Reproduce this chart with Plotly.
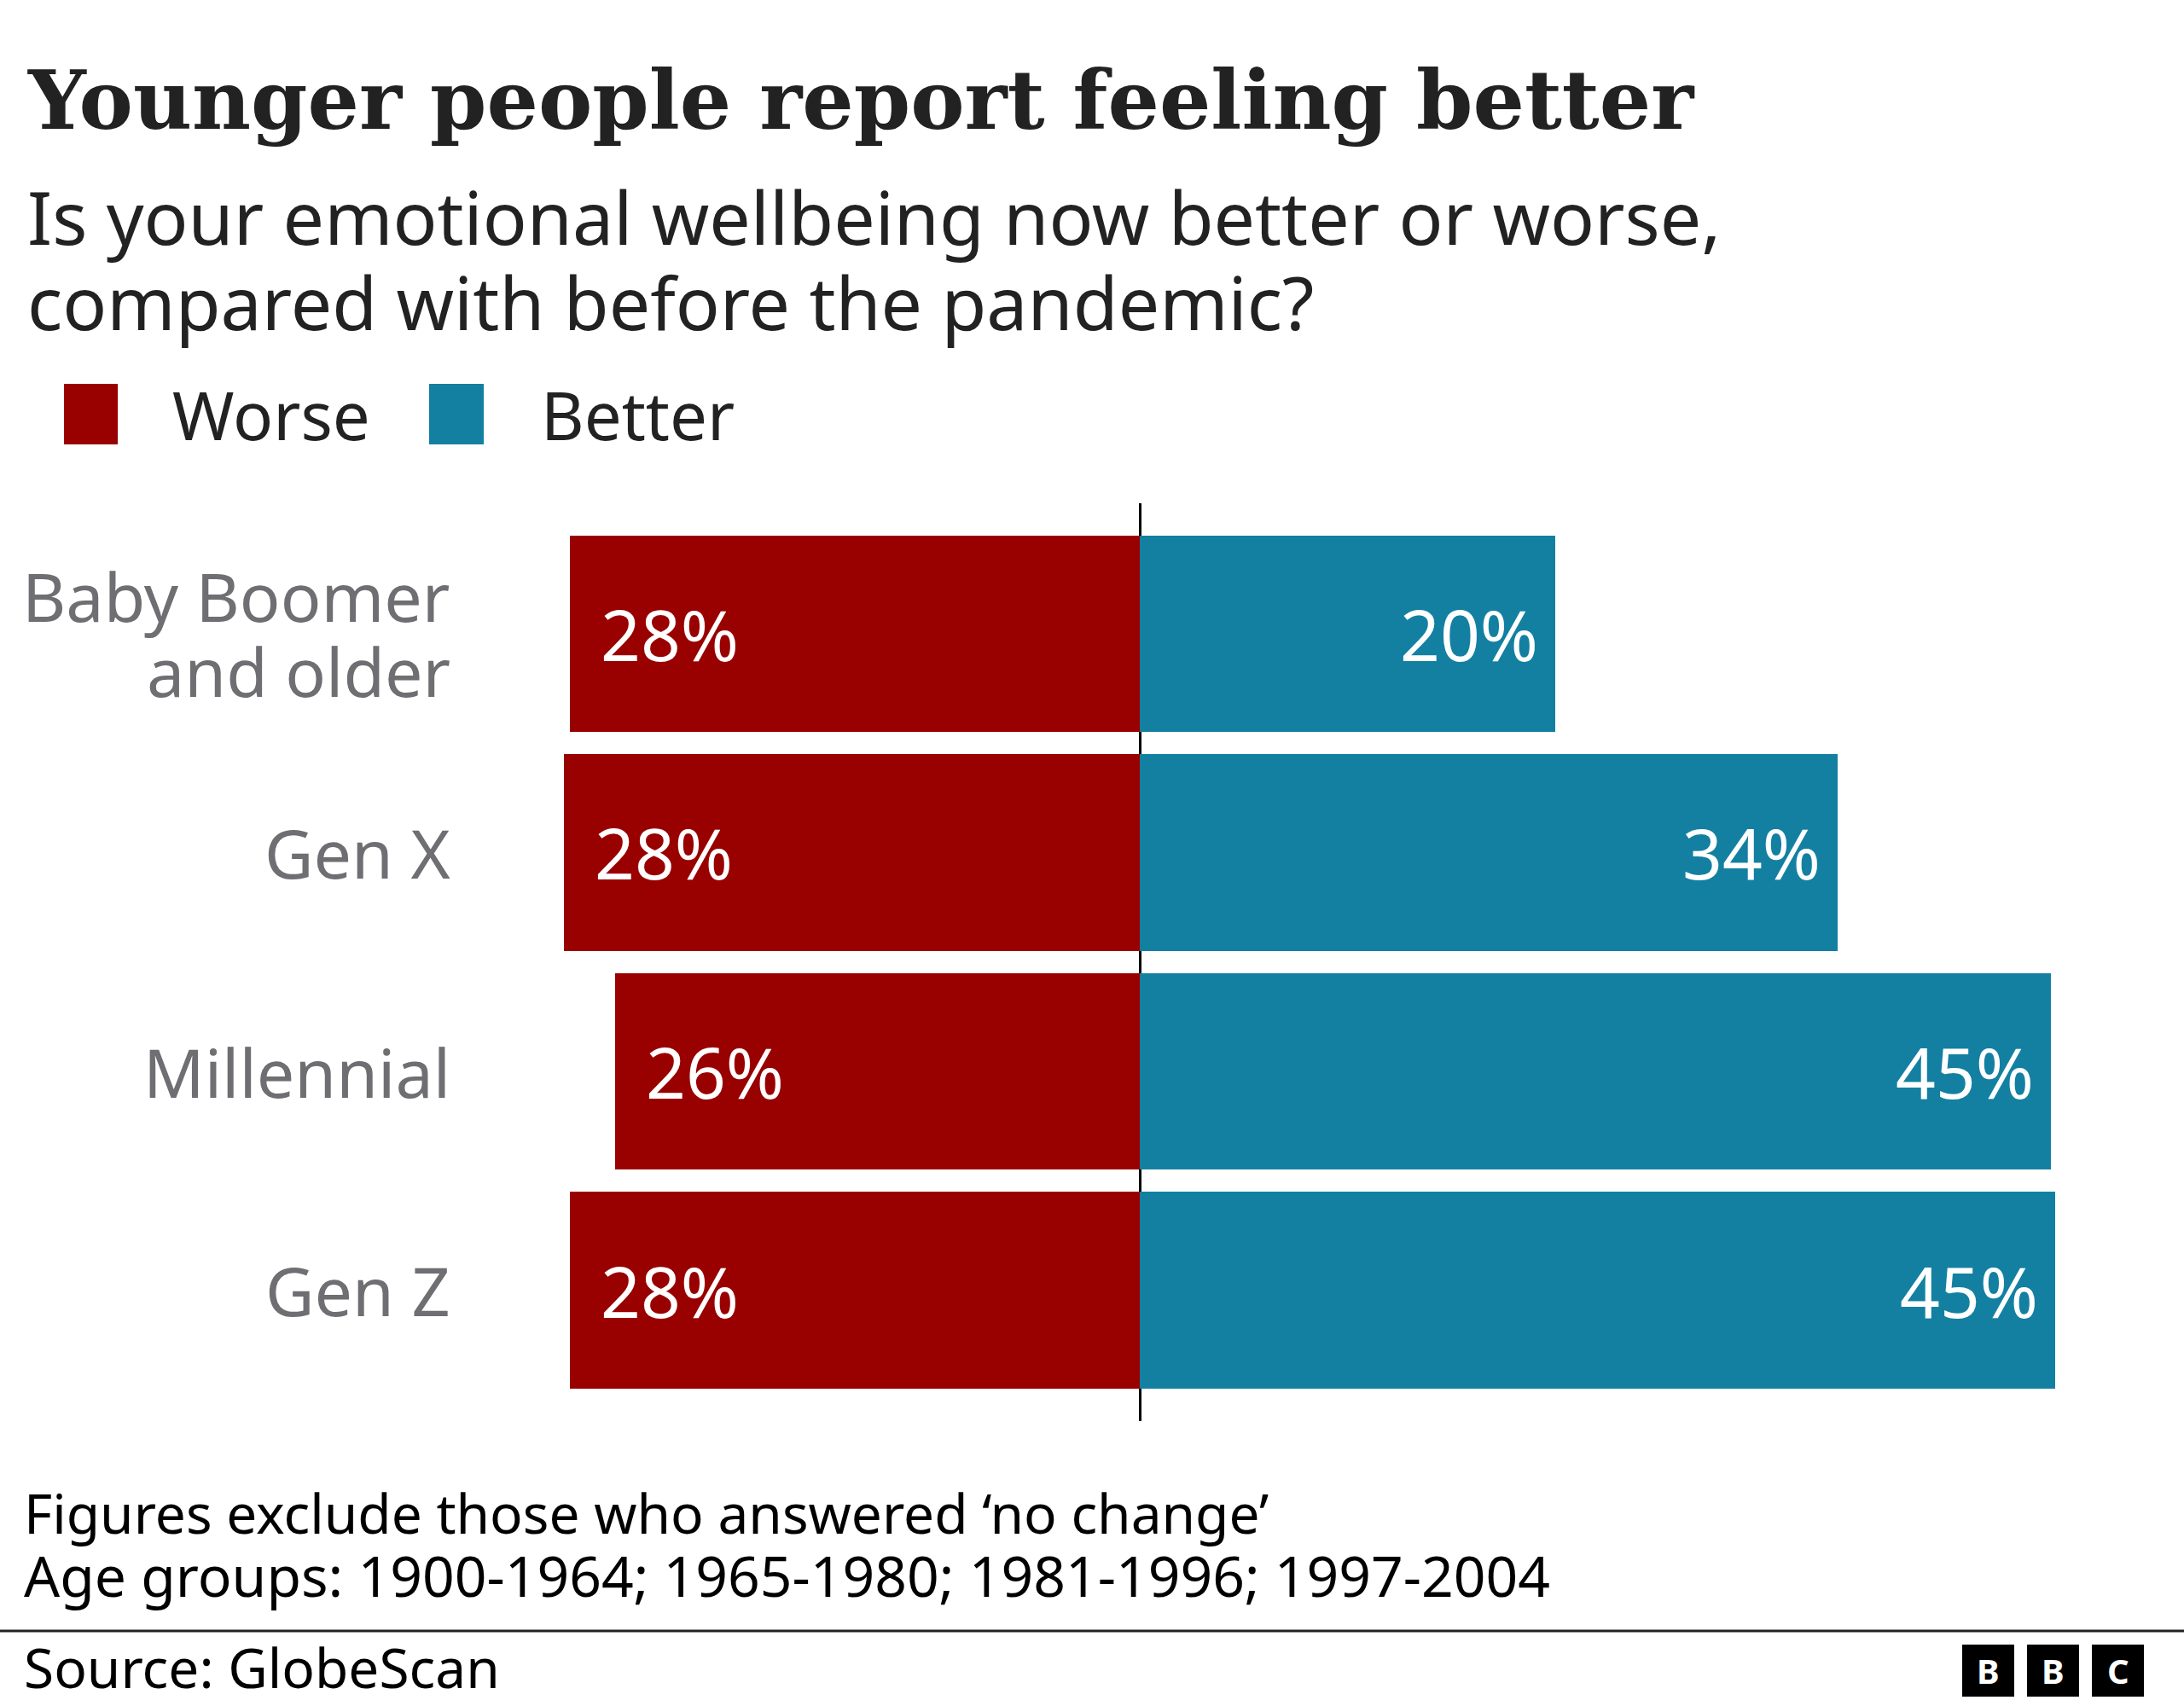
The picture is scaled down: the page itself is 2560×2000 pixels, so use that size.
import plotly.graph_objects as go

# ---- data ----
categories = ["Baby Boomer<br>and older", "Gen X", "Millennial", "Gen Z"]
worse = [28.0, 28.3, 25.8, 28.0]
better = [20.4, 34.3, 44.8, 45.0]
worse_labels = ["28%", "28%", "26%", "28%"]
better_labels = ["20%", "34%", "45%", "45%"]

# ---- style ----
W, H = 2560, 2000
RED = "#990000"
BLUE = "#1380A1"
SANS = "Noto Sans"
SERIF = "DejaVu Serif"
TEXT = "#222222"
GREY = "#6e6e73"

PX_PER_UNIT = 23.85
ZERO_PX = 1336
PLOT_TOP, PLOT_BOTTOM = 590, 1666
ROW0_PX, ROW_STEP = 743, 256.5
LABEL_LINE_GAP = 88

x_range = [-ZERO_PX / PX_PER_UNIT, (W - ZERO_PX) / PX_PER_UNIT]
y_range = [(PLOT_BOTTOM - ROW0_PX) / ROW_STEP, -(ROW0_PX - PLOT_TOP) / ROW_STEP]

ypos = list(range(len(categories)))

fig = go.Figure()
fig.add_trace(go.Bar(y=ypos, x=[-v for v in worse], orientation="h",
                     marker=dict(color=RED, line=dict(width=0)), width=0.9,
                     name="Worse", hoverinfo="skip"))
fig.add_trace(go.Bar(y=ypos, x=better, orientation="h",
                     marker=dict(color=BLUE, line=dict(width=0)), width=0.9,
                     name="Better", hoverinfo="skip"))

def px(x):
    return x / W

def py(y):
    return 1 - y / H

ann = []
# category labels (multi-line labels placed line by line for tighter leading)
for i, c in enumerate(categories):
    lines = c.split("<br>")
    n = len(lines)
    for j, line in enumerate(lines):
        shift = ((n - 1) / 2 - j) * LABEL_LINE_GAP
        ann.append(dict(text=line, xref="paper", yref="y", x=px(530), y=i, yshift=shift,
                        xanchor="right", yanchor="middle", showarrow=False, align="right",
                        font=dict(family=SANS, size=79, color=GREY)))
# value labels
for i in range(len(categories)):
    ann.append(dict(text=worse_labels[i], xref="x", yref="y", x=-worse[i], y=i,
                    xanchor="left", yanchor="middle", xshift=34, showarrow=False,
                    font=dict(family=SANS, size=82, color="white")))
    ann.append(dict(text=better_labels[i], xref="x", yref="y", x=better[i], y=i,
                    xanchor="right", yanchor="middle", xshift=-18, showarrow=False,
                    font=dict(family=SANS, size=82, color="white")))

# title & subtitle
ann.append(dict(text="<b>Younger people report feeling better</b>", xref="paper", yref="paper",
                x=px(30), y=py(117), xanchor="left", yanchor="middle", showarrow=False,
                font=dict(family=SERIF, size=95, color=TEXT)))
ann.append(dict(text="Is your emotional wellbeing now better or worse,", xref="paper", yref="paper",
                x=px(30), y=py(253), xanchor="left", yanchor="middle", showarrow=False,
                font=dict(family=SANS, size=86, color=TEXT)))
ann.append(dict(text="compared with before the pandemic?", xref="paper", yref="paper",
                x=px(30), y=py(353), xanchor="left", yanchor="middle", showarrow=False,
                font=dict(family=SANS, size=86, color=TEXT)))
# legend text
ann.append(dict(text="Worse", xref="paper", yref="paper", x=px(200), y=py(486),
                xanchor="left", yanchor="middle", showarrow=False,
                font=dict(family=SANS, size=78, color=TEXT)))
ann.append(dict(text="Better", xref="paper", yref="paper", x=px(632), y=py(486),
                xanchor="left", yanchor="middle", showarrow=False,
                font=dict(family=SANS, size=78, color=TEXT)))
# footnotes
ann.append(dict(text="Figures exclude those who answered \u2018no change\u2019", xref="paper", yref="paper",
                x=px(26), y=py(1773), xanchor="left", yanchor="middle", showarrow=False,
                font=dict(family=SANS, size=64, color="#000000")))
ann.append(dict(text="Age groups: 1900-1964; 1965-1980; 1981-1996; 1997-2004", xref="paper", yref="paper",
                x=px(26), y=py(1846), xanchor="left", yanchor="middle", showarrow=False,
                font=dict(family=SANS, size=66, color="#000000")))
ann.append(dict(text="Source: GlobeScan", xref="paper", yref="paper",
                x=px(26), y=py(1954), xanchor="left", yanchor="middle", showarrow=False,
                font=dict(family=SANS, size=64, color="#000000")))

shapes = [
    # legend squares
    dict(type="rect", xref="paper", yref="paper", x0=px(75), x1=px(138), y0=py(521), y1=py(450),
         fillcolor=RED, line=dict(width=0)),
    dict(type="rect", xref="paper", yref="paper", x0=px(503), x1=px(567), y0=py(521), y1=py(450),
         fillcolor=BLUE, line=dict(width=0)),
    # separator
    dict(type="line", xref="paper", yref="paper", x0=0, x1=1, y0=py(1912), y1=py(1912),
         line=dict(color="#222222", width=3)),
]
# BBC blocks
for k, (x0, letter) in enumerate([(2300, "B"), (2376, "B"), (2452, "C")]):
    shapes.append(dict(type="rect", xref="paper", yref="paper", x0=px(x0), x1=px(x0 + 61),
                       y0=py(1989), y1=py(1928), fillcolor="#000000", line=dict(width=0)))
    ann.append(dict(text="<b>%s</b>" % letter, xref="paper", yref="paper", x=px(x0 + 30.5), y=py(1958),
                    xanchor="center", yanchor="middle", showarrow=False,
                    font=dict(family=SANS, size=40, color="white")))

fig.update_layout(
    width=W, height=H,
    margin=dict(l=0, r=0, t=0, b=0, pad=0),
    paper_bgcolor="white", plot_bgcolor="white",
    barmode="relative", bargap=0,
    showlegend=False,
    xaxis=dict(range=x_range, domain=[0, 1], showgrid=False, showticklabels=False, ticks="",
               zeroline=True, zerolinecolor="#000000", zerolinewidth=3, layer="above traces",
               fixedrange=True),
    yaxis=dict(range=y_range, domain=[1 - PLOT_BOTTOM / H, 1 - PLOT_TOP / H],
               showgrid=False, showticklabels=False, ticks="",
               zeroline=False, fixedrange=True),
    annotations=ann,
    shapes=shapes,
)

fig.write_html("out.html")
